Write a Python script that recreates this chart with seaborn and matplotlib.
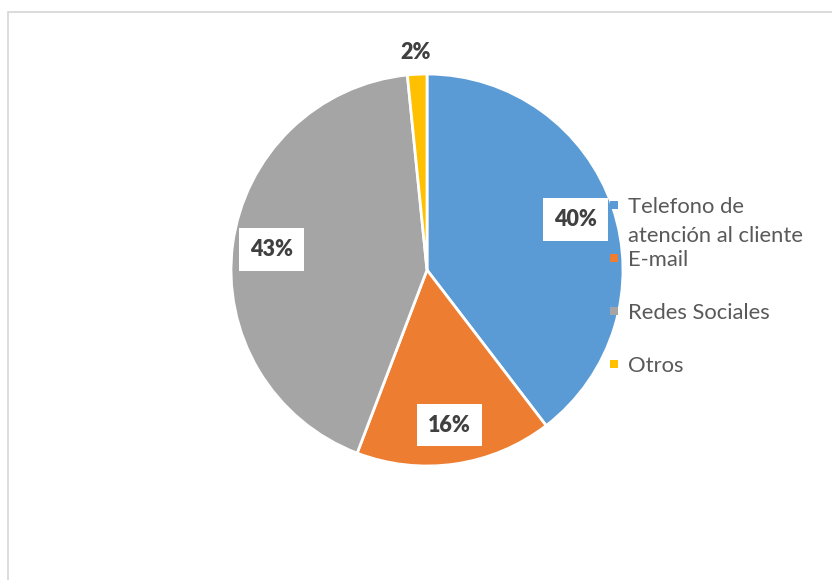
import matplotlib
matplotlib.use("Agg")
import matplotlib.pyplot as plt
from matplotlib.patches import Rectangle
import numpy as np
import seaborn as sns

categories = ["Telefono de\natención al cliente", "E-mail", "Redes Sociales", "Otros"]
shares = [39.6, 16.2, 42.6, 1.6]
colors = ["#5B9BD5", "#ED7D31", "#A5A5A5", "#FFC000"]

sns.set_theme(style="white")
plt.rcParams["font.family"] = ["Lato", "DejaVu Sans"]

W, H = 832, 580
fig = plt.figure(figsize=(W / 100, H / 100), dpi=100)
fig.patch.set_facecolor("white")

# chart-area frame, open to the right and bottom
fig.patches.append(Rectangle((8 / W, -0.05), 1.1, (H - 12) / H + 0.05,
                             transform=fig.transFigure, fill=False,
                             edgecolor="#D9D9D9", linewidth=1.3, zorder=0))

# pie axes: centre (427, 270) px from top-left, radius 196 px
cx, cy, r = 427, 270, 196
ax = fig.add_axes([(cx - r) / W, (H - cy - r) / H, 2 * r / W, 2 * r / H])

palette = sns.color_palette(colors)
wedges, texts, autotexts = ax.pie(
    shares, colors=palette, startangle=90, counterclock=False, radius=1,
    autopct=lambda p: f"{p:.0f}%", pctdistance=0.8,
    wedgeprops=dict(edgecolor="white", linewidth=2),
    textprops=dict(fontsize=15.5, fontweight="heavy", color="#404040"))
ax.set_xlim(-1, 1)
ax.set_ylim(-1, 1)
ax.set_aspect("equal")
ax.axis("off")

for w, t in zip(wedges, autotexts):
    share = (w.theta2 - w.theta1) / 360
    if share < 0.05:
        ang = np.deg2rad((w.theta1 + w.theta2) / 2)
        t.set_position((1.11 * np.cos(ang), 1.11 * np.sin(ang)))
    else:
        t.set_bbox(dict(boxstyle="square,pad=0.5", facecolor="white", edgecolor="none"))

# legend on the right
mx, my0, step = 614, 205, 53
for i, (lab, col) in enumerate(zip(categories, palette)):
    y = my0 + i * step
    fig.patches.append(Rectangle(((mx - 4) / W, (H - y - 4) / H), 8 / W, 8 / H,
                                 transform=fig.transFigure, facecolor=col,
                                 edgecolor="none", zorder=5))
    for j, line in enumerate(lab.split("\n")):
        fig.text(628 / W, (H - (y + 8 + j * 29)) / H, line, fontsize=15.8,
                 color="#595959", ha="left", va="baseline")

fig.savefig("out.png", dpi=100, facecolor="white")
